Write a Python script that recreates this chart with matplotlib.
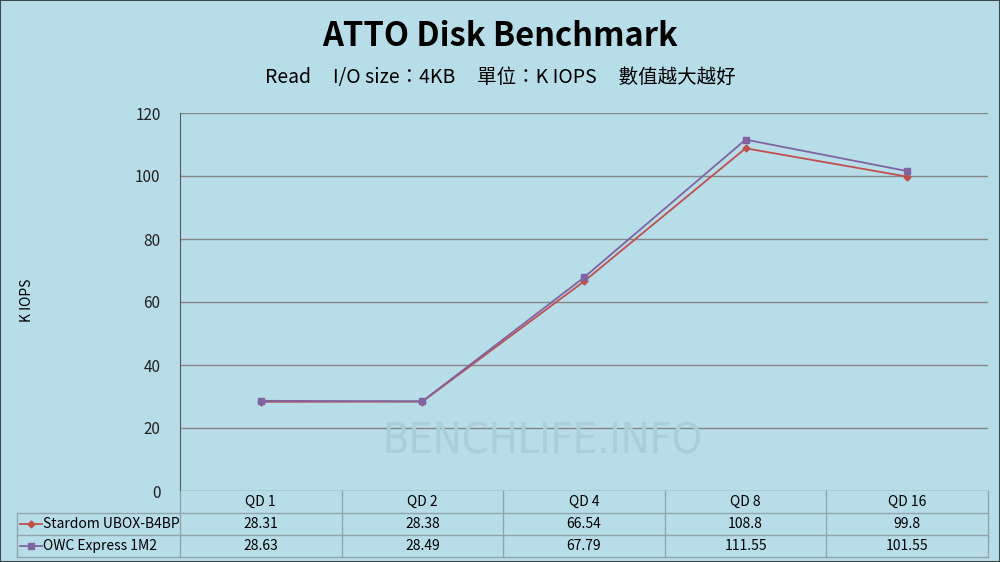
import matplotlib
matplotlib.use("Agg")
import matplotlib.pyplot as plt
from matplotlib.lines import Line2D

plt.rcParams['font.family'] = ['Noto Sans CJK TC', 'DejaVu Sans']

categories = ["QD 1", "QD 2", "QD 4", "QD 8", "QD 16"]
stardom = [28.31, 28.38, 66.54, 108.8, 99.8]
owc = [28.63, 28.49, 67.79, 111.55, 101.55]
series_names = ["Stardom UBOX-B4BP", "OWC Express 1M2"]
value_labels = [["28.31", "28.38", "66.54", "108.8", "99.8"],
                ["28.63", "28.49", "67.79", "111.55", "101.55"]]

bg = "#b7dde8"
red = "#c0504d"
purple = "#8064a2"
gridc = "#868686"
tablec = "#8fa5ab"

W, H = 1000, 562
fig = plt.figure(figsize=(10, 5.62), dpi=100, facecolor=bg)

def fx(px):
    return px / W

def fy(py):
    return 1 - py / H

# plot area
ax = fig.add_axes([fx(180), fy(491), fx(988) - fx(180), fy(113) - fy(491)])
ax.set_facecolor(bg)
x = list(range(len(categories)))
ax.plot(x, stardom, color=red, lw=1.3, marker="D", ms=3.5, zorder=3)
ax.plot(x, owc, color=purple, lw=1.3, marker="s", ms=5, zorder=4)
ax.set_xlim(-0.5, len(categories) - 0.5)
ax.set_ylim(0, 120)
ax.set_yticks(range(0, 121, 20))
ax.yaxis.grid(True, color=gridc, lw=1.0)
ax.set_axisbelow(True)
ax.set_xticks([])
ax.tick_params(axis="y", length=0, pad=14, labelsize=11, labelcolor="#222222")
for s in ["top", "right", "bottom"]:
    ax.spines[s].set_visible(False)
ax.spines["left"].set_color("#5a5a5a")

# watermark
fig.text(fx(542), fy(441), "BENCHLIFE.INFO", fontsize=31, color="#a9cfd9",
         ha="center", va="center", family=["DejaVu Sans"], fontstretch="condensed",
         zorder=0)

# titles
fig.text(0.5, fy(37), "ATTO Disk Benchmark", ha="center", va="center",
         fontsize=23.5, fontweight="bold")
fig.text(0.5, fy(78), "Read     I/O size：4KB     單位：K IOPS     數值越大越好",
         ha="center", va="center", fontsize=14, fontweight="medium")
fig.text(fx(27), fy(300), "K IOPS", rotation=90, ha="center", va="center",
         fontsize=10)

# data table
col_edges = [180 + i * 161.6 for i in range(len(categories) + 1)]
row_edges = [491, 513, 535, 557]

def hline(y, x0, x1):
    fig.add_artist(Line2D([fx(x0), fx(x1)], [fy(y), fy(y)], color=tablec, lw=1))

def vline(xp, y0, y1):
    fig.add_artist(Line2D([fx(xp), fx(xp)], [fy(y0), fy(y1)], color=tablec, lw=1))

hline(513, 17, 988)
hline(535, 17, 988)
hline(557, 17, 988)
vline(17, 513, 557)
for xe in col_edges:
    vline(xe, 491, 557)

for i, c in enumerate(categories):
    cx = (col_edges[i] + col_edges[i + 1]) / 2
    fig.text(fx(cx), fy(502), c, ha="center", va="center", fontsize=10)
    for r in range(2):
        cy = (row_edges[r + 1] + row_edges[r + 2]) / 2
        fig.text(fx(cx), fy(cy), value_labels[r][i], ha="center", va="center",
                 fontsize=10)

colors = [red, purple]
markers = ["D", "s"]
msizes = [3.5, 5]
for r in range(2):
    cy = (row_edges[r + 1] + row_edges[r + 2]) / 2
    fig.add_artist(Line2D([fx(20), fx(42)], [fy(cy), fy(cy)], color=colors[r], lw=1.3))
    fig.add_artist(Line2D([fx(31)], [fy(cy)], color=colors[r], marker=markers[r],
                          ms=msizes[r], lw=0))
    fig.text(fx(43), fy(cy), series_names[r], ha="left", va="center", fontsize=10)

# outer border
fig.add_artist(plt.Rectangle((0, 0), 1, 1, fill=False, edgecolor="#3c4a50",
                             lw=1.5, transform=fig.transFigure))

fig.savefig("out.png", dpi=100, facecolor=bg)
